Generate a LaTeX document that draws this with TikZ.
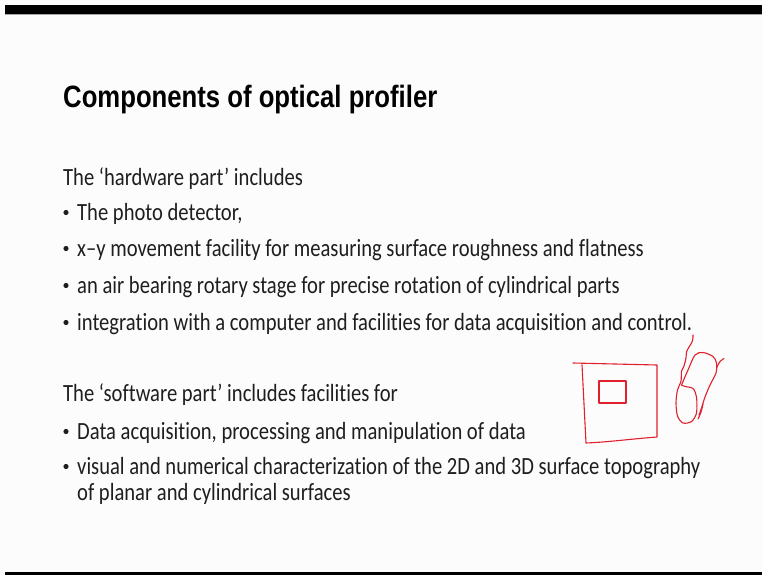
\documentclass[tikz,border=0pt]{standalone}
\usepackage{fontspec}
\usepackage{graphicx}
\setmainfont{Carlito}[Ligatures=NoCommon]
\newfontfamily\headfont{Liberation Sans}
\usetikzlibrary{positioning}
\definecolor{slideBg}{HTML}{FCFCFC}
\definecolor{bodyInk}{HTML}{1E1E1E}
\definecolor{penRed}{HTML}{E0202C}
\newcommand{\tall}[1]{\scalebox{1}[1.2]{#1}}

\begin{document}
\begin{tikzpicture}[x=1pt,y=-1pt,
    head/.style={anchor=base west,inner sep=0pt,font=\headfont\bfseries\fontsize{25.7}{30}\selectfont,text=black},
    body/.style={anchor=base west,inner sep=0pt,font=\fontsize{20.6}{24}\selectfont,text=bodyInk},
    dot/.style={circle,fill=bodyInk,inner sep=0pt,minimum size=5.2pt},
    ink/.style={penRed,line width=1.1pt,line cap=round,line join=round}]
    \useasboundingbox (0,0) rectangle (762,575);
    \fill[slideBg] (0,0) rectangle (762,575);
    \fill[black] (5,5) rectangle (762,14);
    \fill[black!35] (5,14) rectangle (762,15);
    \fill[black] (5,572) rectangle (762,575);
    \node[head] (title) at (63,107) {\tall{Components of optical profiler}};
    % hardware part
    \node[body] (hw) at (63,185) {\tall{The ‘hardware part’ includes}};
    \node[dot] (d1) at (66,212.5) {};
    \node[body] (h1) at (77,220) {\tall{The photo detector,}};
    \node[dot] (d2) at (66,248.5) {};
    \node[body] (h2) at (77,256) {\tall{x–y movement facility for measuring surface roughness and flatness}};
    \node[dot] (d3) at (66,285.5) {};
    \node[body] (h3) at (77,293) {\tall{an air bearing rotary stage for precise rotation of cylindrical parts}};
    \node[dot] (d4) at (66,322.5) {};
    \node[body] (h4) at (77,330) {\tall{integration with a computer and facilities for data acquisition and control.}};
    % software part
    \node[body] (sw) at (63,401) {\tall{The ‘software part’ includes facilities for}};
    \node[dot] (d5) at (66,431.5) {};
    \node[body] (s1) at (77,439) {\tall{Data acquisition, processing and manipulation of data}};
    \node[dot] (d6) at (66,466.5) {};
    \node[body] (s2) at (77,474) {\tall{visual and numerical characterization of the 2D and 3D surface topography}};
    \node[body] (s3) at (77,500) {\tall{of planar and cylindrical surfaces}};
    % pen sketch
    \draw[ink] (573,363) -- (657,365) -- (657,437) .. controls (630,439) and (610,442) .. (586,443) -- (582,365);
    \draw[ink] (599,381) rectangle (626,403);
    \draw[ink] plot[smooth] coordinates {(693,335) (692.5,341) (689,347) (686.5,352) (686,358) (684,366) (681.5,371) (681,381) (677.5,390) (676,403) (677.5,416) (683,423) (691.5,421.5) (696.5,413) (696.5,397) (693,388.5) (685,386.5) (681.5,385)};
    \draw[ink] plot[smooth] coordinates {(681.5,385) (688,370) (695,355) (703,352.5) (713,356.5) (716.5,363) (716,373) (710,385) (705,397) (701.5,408) (699,415)};
    \draw[ink] plot[smooth] coordinates {(703,404) (701,412) (698,419)};
    \draw[ink] plot[smooth] coordinates {(716.5,368) (720,361.5) (724,358.5)};
\end{tikzpicture}
\end{document}
